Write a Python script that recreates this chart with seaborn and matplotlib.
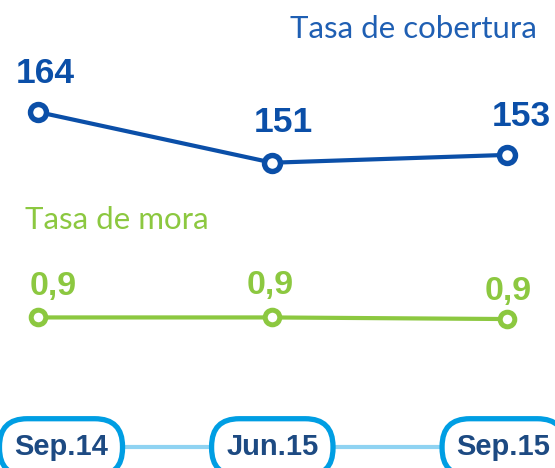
import matplotlib
matplotlib.use("Agg")
import matplotlib.pyplot as plt
import seaborn as sns
import pandas as pd
import numpy as np

# ---- data ----
periods = ["Sep.14", "Jun.15", "Sep.15"]
cobertura = [164, 151, 153]
mora = [0.90, 0.90, 0.89]
title_cob = "Tasa de cobertura"
title_mora = "Tasa de mora"

df = pd.DataFrame({"pos": np.arange(len(periods)), "periodo": periods,
                   "cobertura": cobertura, "mora": mora})

sns.set_style("white")
plt.rcParams["font.family"] = ["Liberation Sans", "DejaVu Sans"]

BLUE = "#0b4fa8"
BLUE_T = "#1f5fb3"
GREEN = "#8cc840"
PILL = "#009ee3"
LINE_T = "#8fd3f2"
NAVY = "#1d4a82"

W, H = 555, 468
fig = plt.figure(figsize=(W / 100, H / 100), dpi=100)
ax = fig.add_axes([0, 0, 1, 1])
ax2 = ax.twinx()

xlim = (-0.1622, 2.2066)
ax.set_xlim(*xlim)
ax.set_ylim(72.72, 192.72)
ax2.set_ylim(-0.041, 2.884)

sns.lineplot(data=df, x="pos", y="cobertura", ax=ax, color=BLUE, lw=3,
             marker="o", markersize=11.5, markeredgewidth=3.9,
             markerfacecolor="white", markeredgecolor=BLUE, zorder=3)
sns.lineplot(data=df, x="pos", y="mora", ax=ax2, color=GREEN, lw=3,
             marker="o", markersize=10.5, markeredgewidth=3.6,
             markerfacecolor="white", markeredgecolor=GREEN, zorder=3)
ax.set_xlim(*xlim)
ax2.set_xlim(*xlim)
for a in (ax, ax2):
    a.set_axis_off()

# value labels (offsets in pixels)
blue_off = [(7, 29), (11, 31), (15, 29)]
green_off = [(15, 22), (-2, 23), (2, 19)]
for i, v in enumerate(cobertura):
    ax.annotate(f"{v:.0f}", xy=(i, v), xytext=blue_off[i], textcoords="offset pixels",
                ha="center", va="baseline", fontsize=25.5, fontweight="bold", color=BLUE)
for i, v in enumerate(mora):
    ax2.annotate(f"{v:.1f}".replace(".", ","), xy=(i, v), xytext=green_off[i],
                 textcoords="offset pixels", ha="center", va="baseline",
                 fontsize=24.5, fontweight="bold", color=GREEN)

# titles
fig.text(537 / W, 1 - 37.5 / H, title_cob, ha="right", va="baseline",
         fontsize=22.5, fontweight="normal", color=BLUE_T,
         family=["Lato", "DejaVu Sans"])
fig.text(25 / W, 1 - 228.5 / H, title_mora, ha="left", va="baseline",
         fontsize=22.5, fontweight="normal", color=GREEN,
         family=["Lato", "DejaVu Sans"])

# timeline with pills
tl_y = 1 - 447.3 / H
ax.plot(df["pos"], [tl_y] * len(periods), transform=ax.get_xaxis_transform(),
        color=LINE_T, lw=3, zorder=1, solid_capstyle="butt")
pill_off = [23, 0, -3]
for i, p in enumerate(periods):
    ax.annotate(p, xy=(i, tl_y), xycoords=("data", "axes fraction"),
                xytext=(pill_off[i], 0), textcoords="offset pixels",
                ha="center", va="center", fontsize=21, fontweight="bold", color=NAVY,
                bbox=dict(boxstyle="round,pad=0.5,rounding_size=0.95", fc="white",
                          ec=PILL, lw=3.8), zorder=4)

fig.savefig("out.png", dpi=100)
